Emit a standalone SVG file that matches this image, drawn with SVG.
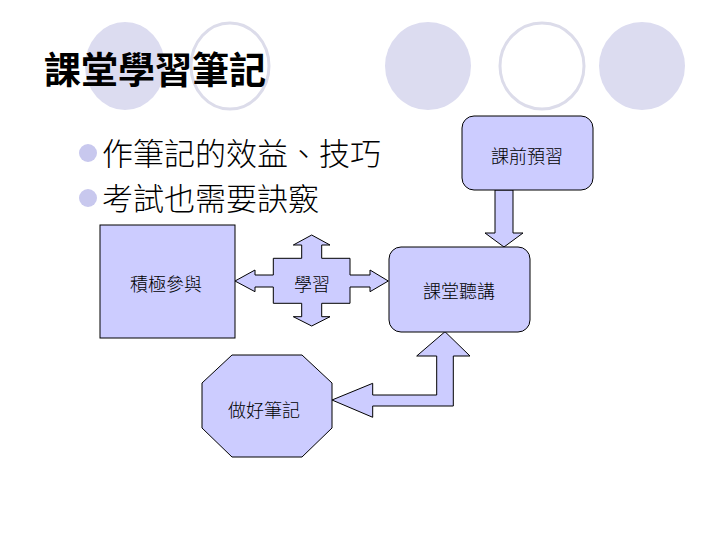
<svg xmlns="http://www.w3.org/2000/svg" width="720" height="540" viewBox="0 0 720 540">
<style>
.dc{fill:#DCDCF0;stroke:none}
.oc{fill:#FFFFFF;stroke:#DCDCEA;stroke-width:3}
.shape{fill:#CCCCFF;stroke:#000;stroke-width:1}
.lbl{font-family:"Noto Sans CJK TC","Noto Sans CJK SC",sans-serif;font-size:18px;font-weight:300;fill:#000;text-anchor:middle;dominant-baseline:central}
.body{font-family:"Noto Sans CJK TC","Noto Sans CJK SC",sans-serif;font-size:31px;font-weight:300;fill:#000}
.title{font-family:"Noto Sans CJK TC","Noto Sans CJK SC",sans-serif;font-size:37px;font-weight:bold;fill:#000}
.bullet{fill:#C8C8EE}
</style>
<rect width="720" height="540" fill="#FFFFFF"/>
<g id="decor">
<ellipse class="dc" cx="125" cy="66" rx="40" ry="44"/>
<ellipse class="oc" cx="230" cy="66" rx="39" ry="43"/>
<ellipse class="dc" cx="428" cy="66" rx="43" ry="44"/>
<ellipse class="oc" cx="542" cy="66" rx="42" ry="43"/>
<ellipse class="dc" cx="642" cy="66" rx="43" ry="44"/>
</g>
<g id="title"><text class="title" x="44" y="84">課堂學習筆記</text></g>
<g id="bullets">
<circle class="bullet" cx="88" cy="153" r="9"/>
<text class="body" x="102" y="165">作筆記的效益、技巧</text>
<circle class="bullet" cx="88" cy="198" r="9"/>
<text class="body" x="102" y="210">考試也需要訣竅</text>
</g>
<g id="connectors">
<path class="shape" d="M495,190 L513,190 L513,233 L523,233 L504,247 L485,233 L495,233 Z"/>
<path class="shape" d="M332,400 L372.7,383.3 L372.7,395 L436.7,395 L436.7,356 L416.7,356 L445,331.7 L470,356 L453.3,356 L453.3,406 L372.7,406 L372.7,417.3 Z"/>
</g>
<g id="node-jiji">
<rect class="shape" x="100" y="225" width="135" height="113"/>
<text class="lbl" x="166" y="283">積極參與</text>
</g>
<g id="node-xuexi">
<path class="shape" d="M235,281 L255,270 L255,275 L273.3,275 L273.3,258.3 L301.7,258.3 L301.7,245 L293.3,245 L311.7,235 L330,245 L321.7,245 L321.7,258.3 L350,258.3 L350,275 L370,275 L370,270 L388.3,281 L370,291.7 L370,287 L350,287 L350,303.3 L321.7,303.3 L321.7,316.7 L330,316.7 L311.7,326 L293.3,316.7 L301.7,316.7 L301.7,303.3 L273.3,303.3 L273.3,287 L255,287 L255,291.7 Z"/>
<text class="lbl" x="312" y="283">學習</text>
</g>
<g id="node-kechian">
<rect class="shape" x="462" y="116" width="131" height="74" rx="12"/>
<text class="lbl" x="527" y="155">課前預習</text>
</g>
<g id="node-ketang">
<rect class="shape" x="389" y="247" width="141" height="85" rx="12"/>
<text class="lbl" x="459" y="290">課堂聽講</text>
</g>
<g id="node-biji">
<path class="shape" d="M232,355 L302,355 L332,383 L332,428 L302,457 L232,457 L202,428 L202,383 Z"/>
<text class="lbl" x="264" y="409">做好筆記</text>
</g>
</svg>
